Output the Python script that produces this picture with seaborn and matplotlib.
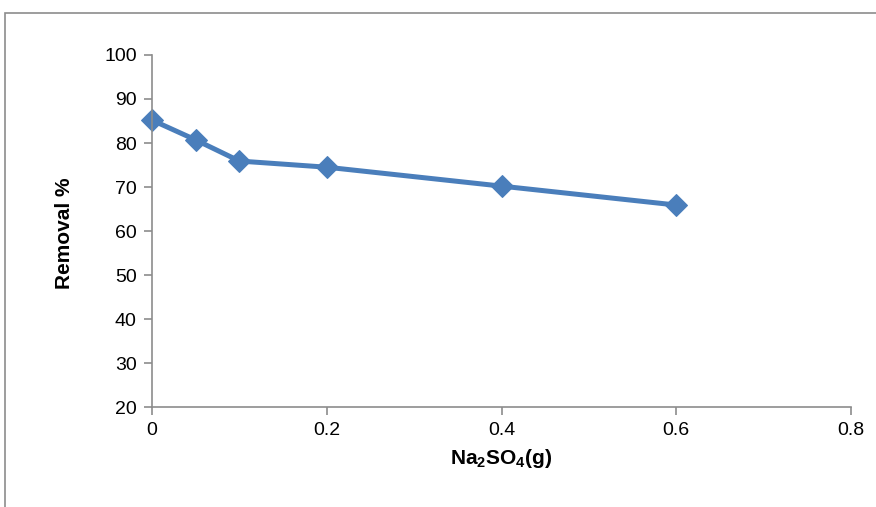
import matplotlib
matplotlib.use("Agg")
import matplotlib.pyplot as plt
import seaborn as sns
import pandas as pd
from matplotlib.patches import Rectangle

na2so4_g = [0, 0.05, 0.1, 0.2, 0.4, 0.6]
removal_pct = [85.2, 80.7, 75.9, 74.5, 70.2, 65.9]
x_ticks = [0, 0.2, 0.4, 0.6, 0.8]
x_tick_labels = ["0", "0.2", "0.4", "0.6", "0.8"]
y_ticks = [20, 30, 40, 50, 60, 70, 80, 90, 100]

sns.set_theme(style="white")
plt.rcParams['font.family'] = ['Liberation Sans', 'DejaVu Sans']
plt.rcParams['text.color'] = 'black'
plt.rcParams['mathtext.fontset'] = 'custom'
plt.rcParams['mathtext.rm'] = 'Liberation Sans:bold'
plt.rcParams['mathtext.it'] = 'Liberation Sans:bold'
plt.rcParams['mathtext.bf'] = 'Liberation Sans:bold'

df = pd.DataFrame({"x": na2so4_g, "y": removal_pct})

fig = plt.figure(figsize=(8.76, 5.07), dpi=100)
# outer chart frame
fig.patches.append(Rectangle((5/876, -0.1), 1.2, 1 - 13/507 + 0.1, transform=fig.transFigure,
                             fill=False, edgecolor="#8c8c8c", linewidth=1.2))
ax = fig.add_axes([152/876, 1 - 407/507, (851 - 152)/876, (407 - 55)/507])

blue = "#4A7EBB"
sns.lineplot(data=df, x="x", y="y", ax=ax, color=blue, linewidth=3.6,
             marker="D", markersize=11.5, markeredgecolor=blue, markerfacecolor=blue,
             clip_on=False)

ax.set_xlim(0, 0.8)
ax.set_ylim(20, 100)
ax.set_xticks(x_ticks)
ax.set_xticklabels(x_tick_labels)
ax.set_yticks(y_ticks)
ax.tick_params(axis="both", labelsize=14, labelcolor="black", length=6, width=1.2,
               direction="out", pad=5, color="#8c8c8c")
ax.xaxis.set_ticks_position("bottom")
ax.yaxis.set_ticks_position("left")
for side in ["top", "right"]:
    ax.spines[side].set_visible(False)
for side in ["left", "bottom"]:
    ax.spines[side].set_color("#8c8c8c")
    ax.spines[side].set_linewidth(1.2)
ax.grid(False)

ax.set_xlabel("")
ax.set_ylabel("")
fig.text(65/876, 1 - 233/507, "Removal %", rotation=90, ha="center", va="center",
         fontsize=15, fontweight="bold", color="black")
fig.text(501/876, 1 - 458/507, r"Na$_2$SO$_4$(g)", ha="center", va="center",
         fontsize=15, fontweight="bold", color="black")

fig.savefig("out.png", dpi=100)
